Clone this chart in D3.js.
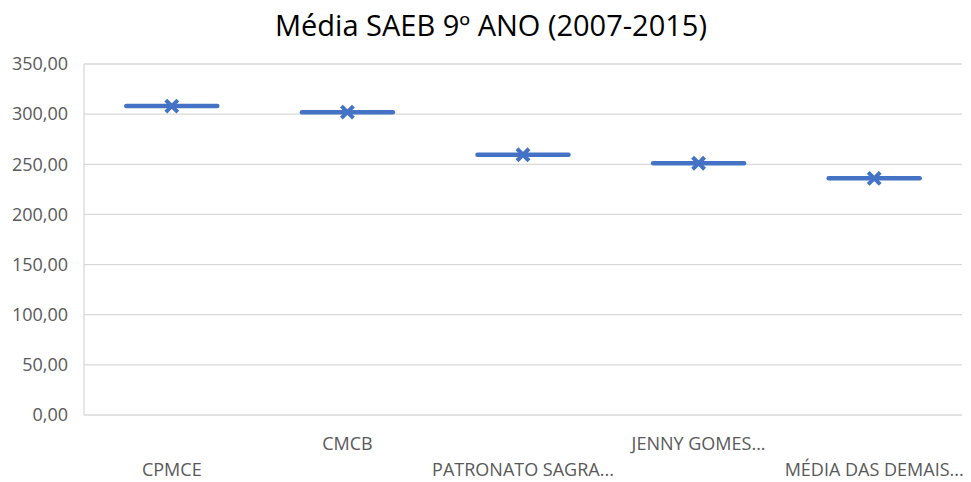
<!DOCTYPE html>
<html>
<head>
<meta charset="utf-8">
<script src="https://cdn.jsdelivr.net/npm/d3@7"></script>
<style>
  body { margin: 0; background: #fff; }
  text { font-family: "Open Sans", sans-serif; }
</style>
</head>
<body>
<div id="chart"></div>
<script>
const width = 971, height = 482;

// data
const categories = ["CPMCE", "CMCB", "PATRONATO SAGRA...", "JENNY GOMES...", "MÉDIA DAS DEMAIS..."];
const medias = [308, 302, 259.5, 251, 236];
const yTicks = [0, 50, 100, 150, 200, 250, 300, 350];

const margin = {top: 64, right: 9, bottom: 67, left: 84};

var svg = d3.select("#chart")
  .append("svg")
  .attr("width", width)
  .attr("height", height);

var x = d3.scaleBand()
  .domain(categories)
  .range([margin.left, width - margin.right]);

var y = d3.scaleLinear()
  .domain([0, 350])
  .range([height - margin.bottom, margin.top]);

// title
svg.append("text")
  .attr("x", 491)
  .attr("y", 36)
  .attr("text-anchor", "middle")
  .attr("font-size", 29)
  .attr("fill", "#000")
  .text("Média SAEB 9º ANO (2007-2015)");

// gridlines
svg.append("g")
  .selectAll("line")
  .data(yTicks)
  .enter().append("line")
  .attr("x1", margin.left)
  .attr("x2", width - margin.right)
  .attr("y1", d => y(d))
  .attr("y2", d => y(d))
  .attr("stroke", "#d9d9d9")
  .attr("stroke-width", 1.3);

// vertical axis line
svg.append("line")
  .attr("x1", margin.left).attr("x2", margin.left)
  .attr("y1", y(350)).attr("y2", y(0))
  .attr("stroke", "#d9d9d9")
  .attr("stroke-width", 1.3);

// y tick labels
const fmt = d => d3.format(".2f")(d).replace(".", ",");
svg.append("g")
  .selectAll("text")
  .data(yTicks)
  .enter().append("text")
  .attr("x", 68)
  .attr("y", d => y(d))
  .attr("dy", "0.35em")
  .attr("text-anchor", "end")
  .attr("font-size", 18)
  .attr("fill", "#595959")
  .text(fmt);

// x labels, staggered like Excel does
svg.append("g")
  .selectAll("text")
  .data(categories)
  .enter().append("text")
  .attr("x", d => x(d) + x.bandwidth() / 2)
  .attr("y", (d, i) => i % 2 ? 450 : 476)
  .attr("text-anchor", "middle")
  .attr("font-size", 18)
  .attr("fill", "#595959")
  .text(d => d);

// median lines (box collapses to a line)
const boxW = 91;
svg.append("g")
  .selectAll("line")
  .data(categories)
  .enter().append("line")
  .attr("x1", d => x(d) + x.bandwidth() / 2 - boxW / 2)
  .attr("x2", d => x(d) + x.bandwidth() / 2 + boxW / 2)
  .attr("y1", (d, i) => y(medias[i]))
  .attr("y2", (d, i) => y(medias[i]))
  .attr("stroke", "#4472c4")
  .attr("stroke-width", 4.5)
  .attr("stroke-linecap", "round");

// mean markers (x)
const m = 6;
var marks = svg.append("g")
  .selectAll("path")
  .data(categories)
  .enter().append("path")
  .attr("d", (d, i) => {
    const cx = x(d) + x.bandwidth() / 2, cy = y(medias[i]);
    return `M${cx - m},${cy - m}L${cx + m},${cy + m}M${cx - m},${cy + m}L${cx + m},${cy - m}`;
  })
  .attr("stroke", "#4472c4")
  .attr("stroke-width", 4)
  .attr("fill", "none");
</script>
</body>
</html>
